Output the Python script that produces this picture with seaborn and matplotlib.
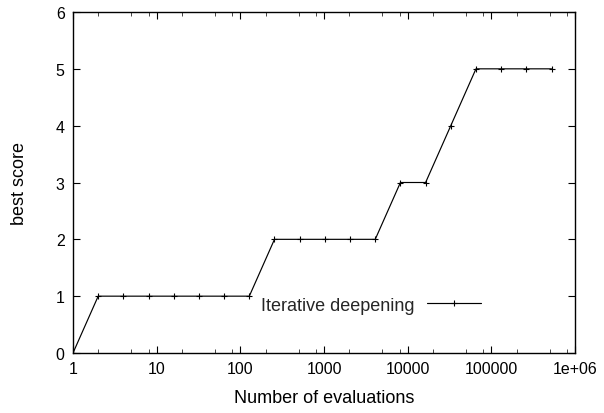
import numpy as np
import pandas as pd
import matplotlib
matplotlib.use("Agg")
import matplotlib.pyplot as plt
import matplotlib.ticker as mticker
import seaborn as sns

evaluations = [1, 2, 4, 8, 16, 32, 64, 128, 256, 512, 1024, 2048, 4096,
               8192, 16384, 32768, 65536, 131072, 262144, 524288]
best_score = [0, 1, 1, 1, 1, 1, 1, 1, 2, 2, 2, 2, 2, 3, 3, 4, 5, 5, 5, 5]
series_name = "Iterative deepening"
x_major = [1, 10, 100, 1000, 10000, 100000, 1000000]
x_labels = ["1", "10", "100", "1000", "10000", "100000", "1e+06"]
y_ticks = [0, 1, 2, 3, 4, 5, 6]

df = pd.DataFrame({"evaluations": evaluations, "best score": best_score,
                   "series": series_name})

sns.set_theme(style="white")
plt.rcParams['font.family'] = ['Liberation Sans', 'DejaVu Sans']

fig = plt.figure(figsize=(6.04, 4.14), dpi=100)
ax = fig.add_axes([73/604, 1-354/414, 502/604, 341/414])

sns.lineplot(data=df, x="evaluations", y="best score", hue="series",
             palette=["black"], marker="+", markersize=5, markeredgewidth=0.8,
             markeredgecolor="black", markerfacecolor="black",
             linewidth=0.85, ax=ax, legend=True)

ax.set_xscale("log")
ax.set_xlim(1, 1e6)
ax.set_ylim(0, 6)
ax.xaxis.set_major_locator(mticker.FixedLocator(x_major))
ax.xaxis.set_major_formatter(mticker.FixedFormatter(x_labels))
minors = [m * 10**d for d in range(6) for m in (2, 5, 8)]
ax.xaxis.set_minor_locator(mticker.FixedLocator(minors))
ax.xaxis.set_minor_formatter(mticker.NullFormatter())
ax.set_yticks(y_ticks)

for s in ax.spines.values():
    s.set_color("black")
    s.set_linewidth(1.0)

ax.tick_params(axis="both", which="major", direction="in", length=5, width=0.8,
               top=True, right=True, bottom=True, left=True, labelsize=11.5,
               colors="black", pad=6)
ax.tick_params(axis="x", which="minor", direction="in", length=3, width=0.6,
               top=True, bottom=True)

ax.set_xlabel("Number of evaluations", fontsize=13, color="black", labelpad=9)
ax.set_ylabel("best score", fontsize=13, color="black", labelpad=20)

leg = ax.legend(loc="center right", bbox_to_anchor=(0.845, 0.14), frameon=False,
                markerfirst=False, fontsize=13, handlelength=3.0,
                handletextpad=0.7)
for h in leg.legend_handles:
    h.set_markeredgecolor("black")

fig.savefig("out.png", dpi=100)
